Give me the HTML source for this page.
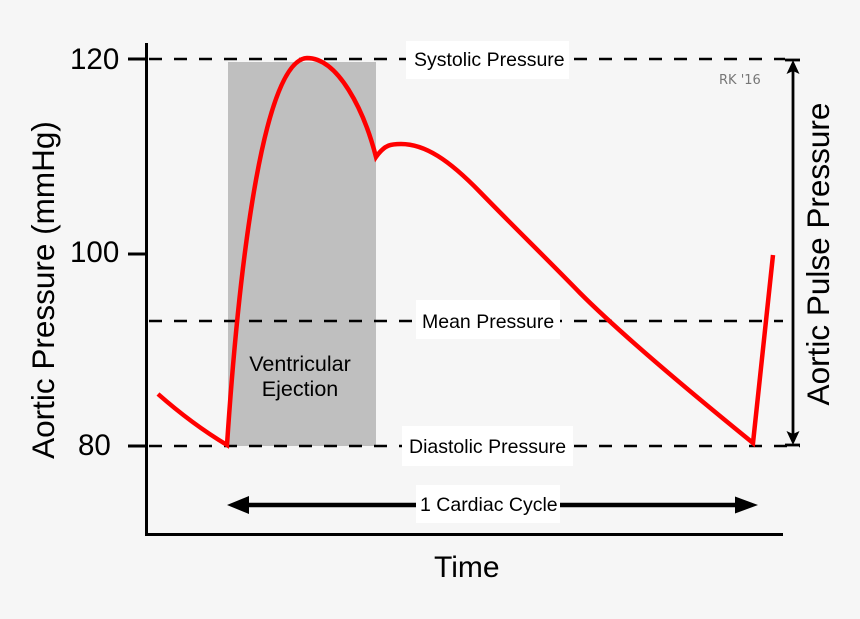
<!DOCTYPE html>
<html>
<head>
<meta charset="utf-8">
<style>
  html, body { margin: 0; padding: 0; background: #f6f6f6; }
  svg { display: block; }
  text { font-family: "Liberation Sans", Arial, sans-serif; fill: #000; }
</style>
</head>
<body>
<svg width="860" height="619" viewBox="0 0 860 619" xmlns="http://www.w3.org/2000/svg">
  <rect x="0" y="0" width="860" height="619" fill="#f6f6f6"/>

  <!-- Ventricular ejection shaded region -->
  <rect x="228" y="62" width="148" height="384" fill="#bfbfbf"/>

  <!-- Dashed reference lines -->
  <g stroke="#000" stroke-width="2.5" stroke-dasharray="13 12" fill="none">
    <line x1="149" y1="59" x2="785" y2="59"/>
    <line x1="149" y1="321" x2="783" y2="321"/>
    <line x1="149" y1="446" x2="800" y2="446"/>
  </g>

  <!-- Axes -->
  <g stroke="#000" stroke-width="3" fill="none">
    <line x1="146.5" y1="43" x2="146.5" y2="536"/>
    <line x1="145" y1="534.5" x2="783" y2="534.5"/>
    <line x1="128" y1="59" x2="146" y2="59"/>
    <line x1="128" y1="254" x2="146" y2="254"/>
    <line x1="128" y1="446" x2="146" y2="446"/>
  </g>

  <!-- Tick labels -->
  <text x="70" y="69" font-size="29.5">120</text>
  <text x="70" y="262" font-size="29.5">100</text>
  <text x="78" y="455" font-size="29.5">80</text>

  <!-- Y axis label -->
  <text transform="translate(54,290) rotate(-90)" text-anchor="middle" font-size="31.5">Aortic Pressure (mmHg)</text>

  <!-- X axis label -->
  <text x="434" y="577" font-size="30">Time</text>

  <!-- Ventricular Ejection text -->
  <text x="300" y="371" text-anchor="middle" font-size="21.5">Ventricular</text>
  <text x="300" y="396" text-anchor="middle" font-size="21.5">Ejection</text>

  <!-- Pressure waveform -->
  <path d="M158,394 Q192,424 227,445 C240,250 265,60 307,58 C338,58 364,110 376,157 C385,144 392,144 401,144 C425,144 449,160 480,192 C513,226 547,259 580,293 C625,338 700,400 753,443 L773,255"
        fill="none" stroke="#ff0000" stroke-width="4.5" stroke-linejoin="miter" stroke-miterlimit="10"/>

  <!-- Label boxes -->
  <rect x="406" y="41" width="163" height="38" fill="#ffffff"/>
  <text x="414" y="66" font-size="19.5">Systolic Pressure</text>

  <rect x="416" y="300" width="144" height="39" fill="#ffffff"/>
  <text x="422" y="328" font-size="19.5">Mean Pressure</text>

  <rect x="402" y="426" width="171" height="40" fill="#ffffff"/>
  <text x="409" y="453" font-size="19.5">Diastolic Pressure</text>

  <!-- Cardiac cycle arrow -->
  <g stroke="#000" stroke-width="4.5">
    <line x1="247" y1="505" x2="418" y2="505"/>
    <line x1="558" y1="505" x2="737" y2="505"/>
  </g>
  <polygon points="227,505 249,496 249,514" fill="#000"/>
  <polygon points="758,505 735,496.5 735,513.5" fill="#000"/>
  <rect x="416" y="485" width="144" height="38" fill="#ffffff"/>
  <text x="420" y="511" font-size="19.5">1 Cardiac Cycle</text>

  <!-- Pulse pressure arrow -->
  <g stroke="#000" stroke-width="2.8">
    <line x1="793" y1="66" x2="793" y2="439"/>
    <line x1="785" y1="60" x2="800" y2="60"/>
    <line x1="785" y1="445" x2="800" y2="445"/>
  </g>
  <polygon points="793,60 786.5,74 793,71 799.5,74" fill="#000"/>
  <polygon points="793,445 786.5,431 793,434 799.5,431" fill="#000"/>

  <text transform="translate(829,254) rotate(-90)" text-anchor="middle" font-size="31.5">Aortic Pulse Pressure</text>

  <!-- Signature -->
  <text x="719" y="84" font-size="13" style="font-family:'DejaVu Sans','Liberation Sans',sans-serif; fill:#777777;">RK '16</text>
</svg>
</body>
</html>
